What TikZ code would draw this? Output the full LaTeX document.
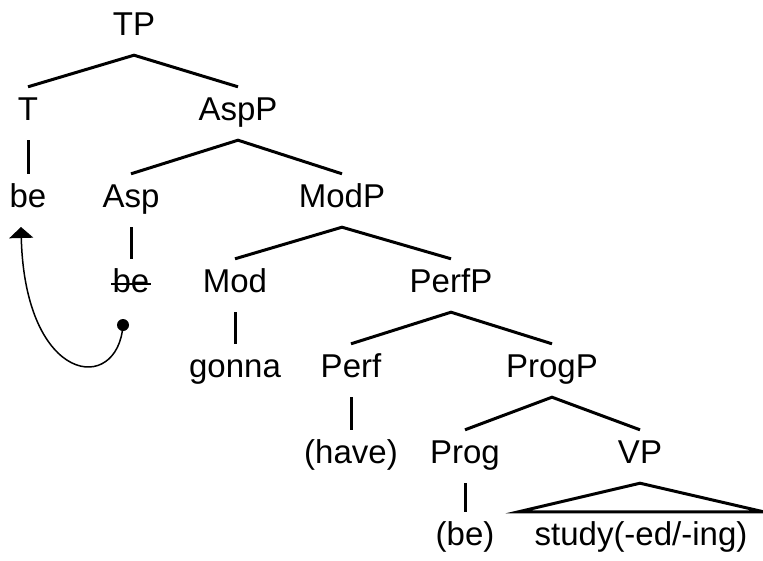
\documentclass[tikz,border=0pt]{standalone}
\usepackage{fontspec}
\setmainfont{Liberation Sans}
\usetikzlibrary{arrows.meta}
\tikzset{
  lbl/.style={anchor=base, inner xsep=0pt, inner ysep=10pt, text height=23pt, text depth=10pt,
              font=\fontsize{33}{39}\selectfont},
  branch/.style={line width=3pt},
  movearrow/.style={line width=1.5pt, -{Triangle[width=24pt,length=11pt]}},
  strike/.style={line width=1.7pt}
}
\begin{document}
\begin{tikzpicture}[x=1pt,y=-1pt]
\useasboundingbox (0,0) rectangle (763,560);
% nodes
\node[lbl] (TP) at (134,35) {TP};
\node[lbl] (T) at (28,120) {T};
\node[lbl] (AspP) at (238,120) {AspP};
\node[lbl] (be1) at (28,207) {be};
\node[lbl] (Asp) at (131,207) {Asp};
\node[lbl] (ModP) at (342,207) {ModP};
\node[lbl] (be2) at (131,292) {be};
\node[lbl] (Mod) at (235,292) {Mod};
\node[lbl] (PerfP) at (451,292) {PerfP};
\node[lbl] (gonna) at (235,377) {gonna};
\node[lbl] (Perf) at (351,377) {Perf};
\node[lbl] (ProgP) at (552,377) {ProgP};
\node[lbl] (have) at (351,463) {(have)};
\node[lbl] (Prog) at (465,463) {Prog};
\node[lbl] (VP) at (640,463) {VP};
\node[lbl] (be3) at (465,545) {(be)};
\node[lbl, inner xsep=16pt] (study) at (641,545) {study(-ed/-ing)};
% branches
\draw[branch] (T.north) -- (TP.south) -- (AspP.north);
\draw[branch] (T.south) -- (be1.north);
\draw[branch] (Asp.north) -- (AspP.south) -- (ModP.north);
\draw[branch] (Asp.south) -- (be2.north);
\draw[branch] (Mod.north) -- (ModP.south) -- (PerfP.north);
\draw[branch] (Mod.south) -- (gonna.north);
\draw[branch] (Perf.north) -- (PerfP.south) -- (ProgP.north);
\draw[branch] (Perf.south) -- (have.north);
\draw[branch] (Prog.north) -- (ProgP.south) -- (VP.north);
\draw[branch] (Prog.south) -- (be3.north);
\draw[branch, line join=miter] (study.north west) -- (VP.south) -- (study.north east) -- cycle;
% strike-through
\draw[strike] ([xshift=-1pt,yshift=1.5pt]be2.west) -- ([xshift=1pt,yshift=1.5pt]be2.east);
% movement arrow
\coordinate (dot) at (123,325);
\coordinate (tip) at (21,227);
\fill (dot) circle (6pt);
\draw[movearrow] (dot) .. controls (118,395) and (25,385) .. (tip);
\end{tikzpicture}
\end{document}
